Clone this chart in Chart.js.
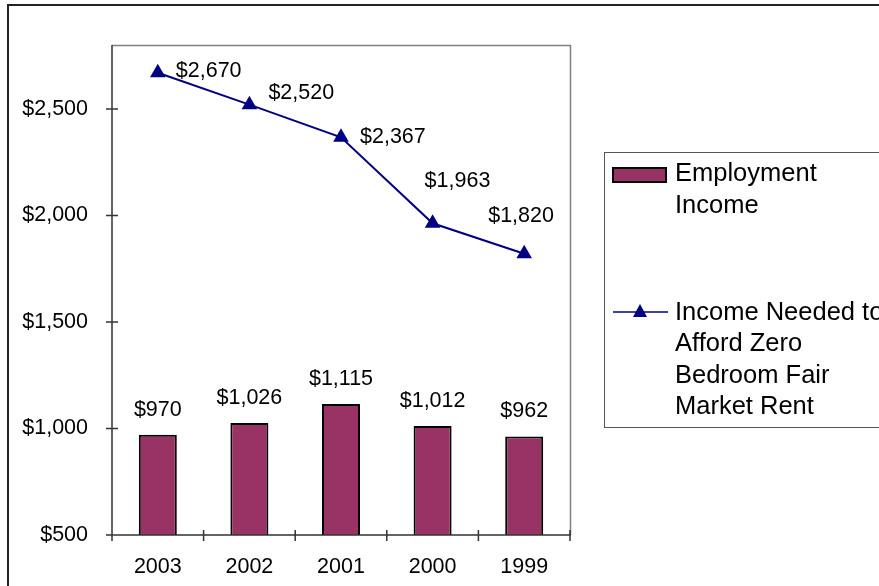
<!DOCTYPE html>
<html>
<head>
<meta charset="utf-8">
<script src="https://cdn.jsdelivr.net/npm/chart.js@4.4.1/dist/chart.umd.min.js"></script>
<style>
html, body { margin: 0; padding: 0; background: #fff; }
canvas { display: block; }
</style>
</head>
<body>
<canvas id="rentChart" width="879" height="586"></canvas>
<script>
const years = ['2003', '2002', '2001', '2000', '1999']
const employmentIncome = [970, 1026, 1115, 1012, 962]
const incomeNeeded = [2670, 2520, 2367, 1963, 1820]
const yTickValues = [500, 1000, 1500, 2000, 2500]
const yMin = 500
const yMax = 2800

const employmentLabel = ['Employment', 'Income']
const neededLabel = ['Income Needed to', 'Afford Zero', 'Bedroom Fair', 'Market Rent']

const barColor = '#993366'
const lineColor = '#000080'
const fontFamily = '"Liberation Sans", Arial, sans-serif'

// where each line label sits relative to its point (left edge, vertical middle)
const lineLabelOffsets = [[18, -2], [19, -12], [19, 0], [-8, -42], [-36, -38]]

function money(value) {
    return '$' + value.toLocaleString('en-US')
}

const chartFrame = {
    id: 'chartFrame',
    beforeDraw(chart) {
        const ctx = chart.ctx
        ctx.save()
        ctx.fillStyle = '#fff'
        ctx.fillRect(0, 0, chart.width, chart.height)
        ctx.strokeStyle = '#222'
        ctx.lineWidth = 2
        ctx.strokeRect(8, 5, chart.width + 20, chart.height + 20)
        ctx.restore()
    },
}

const plotAxes = {
    id: 'plotAxes',
    afterDatasetsDraw(chart) {
        const {ctx, chartArea: area, scales} = chart
        ctx.save()
        ctx.lineWidth = 1.5
        ctx.strokeStyle = '#808080'
        ctx.beginPath()
        ctx.moveTo(area.left, area.top + 0.5)
        ctx.lineTo(area.right + 0.5, area.top + 0.5)
        ctx.lineTo(area.right + 0.5, area.bottom)
        ctx.stroke()

        ctx.strokeStyle = '#333'
        ctx.lineWidth = 1.5
        ctx.beginPath()
        ctx.moveTo(area.left, area.top)
        ctx.lineTo(area.left, area.bottom)
        ctx.lineTo(area.right + 1, area.bottom)
        yTickValues.forEach(value => {
            const y = scales.y.getPixelForValue(value)
            ctx.moveTo(area.left - 6, y)
            ctx.lineTo(area.left + 6, y)
        })
        const step = (area.right - area.left) / years.length
        for (let i = 0; i <= years.length; i++) {
            const x = area.left + step * i
            ctx.moveTo(x, area.bottom - 5)
            ctx.lineTo(x, area.bottom + 6)
        }
        ctx.stroke()
        ctx.restore()
    },
}

const valueLabels = {
    id: 'valueLabels',
    afterDatasetsDraw(chart) {
        const ctx = chart.ctx
        ctx.save()
        ctx.fillStyle = '#000'
        ctx.font = `21.5px ${fontFamily}`
        ctx.textBaseline = 'middle'

        const barMeta = chart.getDatasetMeta(1)
        ctx.textAlign = 'center'
        barMeta.data.forEach((bar, i) => {
            ctx.fillText(money(employmentIncome[i]), bar.x, bar.y - 25)
        })

        const lineMeta = chart.getDatasetMeta(0)
        ctx.textAlign = 'left'
        lineMeta.data.forEach((point, i) => {
            const [dx, dy] = lineLabelOffsets[i]
            ctx.fillText(money(incomeNeeded[i]), point.x + dx, point.y + dy)
        })
        ctx.restore()
    },
}

const sideLegend = {
    id: 'sideLegend',
    afterDraw(chart) {
        const ctx = chart.ctx
        ctx.save()
        ctx.strokeStyle = '#555'
        ctx.lineWidth = 1
        ctx.strokeRect(604.5, 152.5, 300, 275)

        ctx.fillStyle = barColor
        ctx.fillRect(613, 168, 53, 14)
        ctx.strokeStyle = '#000'
        ctx.lineWidth = 2
        ctx.strokeRect(613, 168, 53, 14)

        ctx.strokeStyle = lineColor
        ctx.lineWidth = 1.5
        ctx.beginPath()
        ctx.moveTo(613, 312)
        ctx.lineTo(668, 312)
        ctx.stroke()
        ctx.fillStyle = lineColor
        ctx.beginPath()
        ctx.moveTo(640, 304)
        ctx.lineTo(647, 317)
        ctx.lineTo(633, 317)
        ctx.closePath()
        ctx.fill()

        ctx.fillStyle = '#000'
        ctx.font = `25.5px ${fontFamily}`
        ctx.textAlign = 'left'
        ctx.textBaseline = 'middle'
        employmentLabel.forEach((line, i) => ctx.fillText(line, 675, 174 + i * 32))
        neededLabel.forEach((line, i) => ctx.fillText(line, 675, 313 + i * 31.3))
        ctx.restore()
    },
}

new Chart(document.getElementById('rentChart'), {
    type: 'bar',
    plugins: [chartFrame, plotAxes, valueLabels, sideLegend],
    data: {
        labels: years,
        datasets: [
            {
                type: 'line',
                label: neededLabel.join(' '),
                data: incomeNeeded,
                order: 0,
                borderColor: lineColor,
                backgroundColor: lineColor,
                borderWidth: 2,
                tension: 0,
                pointStyle: 'triangle',
                pointRadius: 9,
                pointBackgroundColor: lineColor,
                pointBorderColor: lineColor,
                pointBorderWidth: 0,
                clip: false,
            },
            {
                type: 'bar',
                label: employmentLabel.join(' '),
                data: employmentIncome,
                order: 1,
                backgroundColor: barColor,
                borderColor: '#000',
                borderWidth: 2,
                borderSkipped: false,
                categoryPercentage: 1,
                barPercentage: 0.415,
            },
        ],
    },
    options: {
        responsive: false,
        animation: false,
        devicePixelRatio: 1,
        layout: {padding: {top: 45, right: 309, left: 0, bottom: 0}},
        plugins: {
            legend: {display: false},
            tooltip: {enabled: false},
        },
        scales: {
            x: {
                grid: {display: false, drawTicks: false},
                border: {display: false},
                ticks: {
                    color: '#000',
                    font: {family: fontFamily, size: 21.5},
                    padding: 19,
                    maxRotation: 0,
                },
                afterFit: scale => { scale.height = 51 },
            },
            y: {
                min: yMin,
                max: yMax,
                grid: {display: false, drawTicks: false},
                border: {display: false},
                ticks: {
                    stepSize: 500,
                    color: '#000',
                    font: {family: fontFamily, size: 21.5},
                    padding: 24,
                    callback: value => money(value),
                },
                afterBuildTicks: scale => {
                    scale.ticks = yTickValues.map(value => ({value}))
                },
                afterFit: scale => { scale.width = 112 },
            },
        },
    },
})
</script>
</body>
</html>
